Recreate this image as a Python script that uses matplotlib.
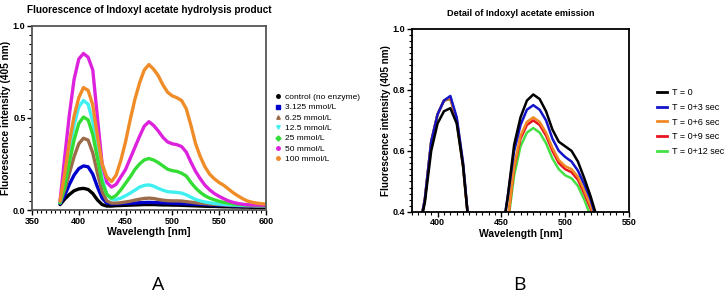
import numpy as np
import matplotlib
matplotlib.use("Agg")
import matplotlib.pyplot as plt
from matplotlib.lines import Line2D
from matplotlib.ticker import MultipleLocator, AutoMinorLocator

plt.rcParams['font.family'] = ['Liberation Sans', 'DejaVu Sans']

# ---- panel A: full spectra, one curve per indoxyl acetate concentration ----
wl_a = [380, 385, 390, 395, 400, 405, 410, 415, 420, 425, 430, 435, 440, 445, 450,
        455, 460, 465, 470, 475, 480, 485, 490, 495, 500, 505, 510, 515, 520, 525,
        530, 535, 540, 545, 550, 555, 560, 565, 570, 575, 580, 585, 590, 595, 600]

control = [0.03, 0.06, 0.085, 0.105, 0.115, 0.118, 0.112, 0.09, 0.055, 0.03, 0.022, 0.022, 0.024, 0.025, 0.026,
           0.027, 0.028, 0.029, 0.03, 0.03, 0.03, 0.029, 0.028, 0.028, 0.027, 0.027, 0.026, 0.025, 0.024, 0.023,
           0.022, 0.021, 0.02, 0.02, 0.019, 0.018, 0.018, 0.017, 0.017, 0.016, 0.016, 0.015, 0.015, 0.015, 0.015]
c3125 = [0.035, 0.08, 0.14, 0.19, 0.225, 0.24, 0.235, 0.195, 0.125, 0.065, 0.038, 0.033, 0.034, 0.035, 0.036,
         0.037, 0.038, 0.04, 0.041, 0.042, 0.041, 0.04, 0.039, 0.038, 0.037, 0.036, 0.035, 0.034, 0.033, 0.032,
         0.031, 0.03, 0.029, 0.028, 0.027, 0.026, 0.025, 0.024, 0.023, 0.022, 0.022, 0.021, 0.021, 0.02, 0.02]
c625 = [0.04, 0.11, 0.2, 0.29, 0.36, 0.39, 0.38, 0.31, 0.2, 0.1, 0.05, 0.038, 0.038, 0.04, 0.044,
        0.048, 0.054, 0.059, 0.063, 0.065, 0.063, 0.058, 0.054, 0.051, 0.05, 0.05, 0.049, 0.046, 0.043, 0.04,
        0.037, 0.035, 0.033, 0.031, 0.03, 0.028, 0.027, 0.026, 0.025, 0.024, 0.023, 0.023, 0.022, 0.022, 0.022]
c125 = [0.04, 0.16, 0.32, 0.46, 0.56, 0.595, 0.575, 0.48, 0.32, 0.17, 0.085, 0.06, 0.058, 0.065, 0.078,
        0.092, 0.108, 0.125, 0.134, 0.137, 0.13, 0.118, 0.108, 0.1, 0.098, 0.096, 0.092, 0.083, 0.07, 0.058,
        0.05, 0.044, 0.04, 0.036, 0.033, 0.031, 0.029, 0.028, 0.027, 0.026, 0.025, 0.025, 0.024, 0.024, 0.024]
c25 = [0.04, 0.13, 0.26, 0.38, 0.47, 0.505, 0.49, 0.41, 0.28, 0.15, 0.085, 0.065, 0.08, 0.11, 0.145,
       0.18, 0.22, 0.25, 0.272, 0.28, 0.272, 0.258, 0.24, 0.222, 0.214, 0.21, 0.2, 0.185, 0.15, 0.12,
       0.096, 0.078, 0.065, 0.056, 0.048, 0.042, 0.038, 0.034, 0.031, 0.029, 0.027, 0.026, 0.025, 0.025, 0.024]
c50 = [0.05, 0.29, 0.52, 0.71, 0.82, 0.85, 0.83, 0.76, 0.5, 0.25, 0.15, 0.125, 0.14, 0.18, 0.22,
       0.28, 0.34, 0.4, 0.455, 0.48, 0.46, 0.43, 0.395, 0.37, 0.36, 0.355, 0.345, 0.315, 0.26, 0.21,
       0.17, 0.135, 0.11, 0.09, 0.075, 0.062, 0.05, 0.042, 0.036, 0.032, 0.029, 0.028, 0.027, 0.027, 0.026]
c100 = [0.05, 0.2, 0.37, 0.51, 0.61, 0.665, 0.65, 0.57, 0.4, 0.25, 0.18, 0.155, 0.19, 0.27, 0.37,
        0.49, 0.6, 0.69, 0.76, 0.79, 0.765, 0.73, 0.68, 0.64, 0.62, 0.61, 0.595, 0.55, 0.46, 0.36,
        0.29, 0.235, 0.195, 0.17, 0.15, 0.135, 0.115, 0.095, 0.078, 0.063, 0.05, 0.043, 0.038, 0.035, 0.033]

labels_a = ['control (no enzyme)', '3.125 mmol/L', '6.25 mmol/L', '12.5 mmol/L',
            '25 mmol/L', '50 mmol/L', '100 mmol/L']
series_a = [control, c3125, c625, c125, c25, c50, c100]
colors_a = ['black', '#0000cc', '#9c6b4a', '#40f0f0', '#33dd33', '#dd22dd', '#f08c28']
markers_a = ['o', 's', '^', 'v', 'D', 'o', 'o']

# ---- panel B: detail of emission over time ----
wl_b = [380, 385, 390, 395, 400, 405, 410, 415, 420, 425, 430, 435, 440, 445, 450, 455, 460, 465,
        470, 475, 480, 485, 490, 495, 500, 505, 510, 515, 520, 525, 530, 535, 540, 545, 550]
t0 = [0.2, 0.33, 0.43, 0.6, 0.69, 0.73, 0.74, 0.69, 0.55, 0.33, 0.2, 0.15, 0.14, 0.2, 0.31, 0.45, 0.62, 0.71,
      0.765, 0.785, 0.77, 0.73, 0.67, 0.63, 0.615, 0.6, 0.565, 0.51, 0.45, 0.38, 0.3, 0.24, 0.2, 0.17, 0.15]
t3 = [0.2, 0.33, 0.44, 0.63, 0.72, 0.765, 0.78, 0.71, 0.56, 0.33, 0.2, 0.15, 0.14, 0.2, 0.31, 0.45, 0.6, 0.685,
      0.735, 0.75, 0.735, 0.7, 0.64, 0.6, 0.58, 0.565, 0.535, 0.49, 0.44, 0.37, 0.3, 0.24, 0.2, 0.17, 0.15]
t6 = [0.2, 0.33, 0.44, 0.63, 0.72, 0.765, 0.775, 0.705, 0.555, 0.33, 0.2, 0.15, 0.13, 0.17, 0.27, 0.37, 0.55, 0.65,
      0.695, 0.71, 0.695, 0.66, 0.61, 0.57, 0.55, 0.54, 0.515, 0.47, 0.42, 0.35, 0.28, 0.22, 0.19, 0.16, 0.14]
t9 = [0.2, 0.33, 0.44, 0.63, 0.72, 0.765, 0.772, 0.7, 0.55, 0.33, 0.2, 0.15, 0.13, 0.17, 0.26, 0.37, 0.545, 0.64,
      0.685, 0.7, 0.685, 0.65, 0.6, 0.56, 0.54, 0.53, 0.505, 0.46, 0.41, 0.34, 0.28, 0.22, 0.19, 0.16, 0.14]
t12 = [0.2, 0.33, 0.44, 0.63, 0.72, 0.765, 0.77, 0.7, 0.55, 0.33, 0.2, 0.15, 0.13, 0.17, 0.25, 0.36, 0.52, 0.615,
       0.66, 0.675, 0.66, 0.625, 0.575, 0.54, 0.52, 0.51, 0.485, 0.44, 0.385, 0.32, 0.27, 0.21, 0.18, 0.15, 0.13]

labels_b = ['T = 0', 'T = 0+3 sec', 'T = 0+6 sec', 'T = 0+9 sec', 'T = 0+12 sec']
series_b = [t0, t3, t6, t9, t12]
colors_b = ['black', '#1414c8', '#f08a24', '#e81420', '#44e044']

fig = plt.figure(figsize=(7.28, 3.01), dpi=100)

def style_axes(ax, lw, spine_color):
    for s in ax.spines.values():
        s.set_linewidth(lw)
        s.set_color(spine_color)
    ax.tick_params(which='major', direction='out', length=3.5, width=1.0, labelsize=6.5, pad=1.2)
    ax.tick_params(which='minor', direction='out', length=2, width=0.8)
    for lab in ax.get_xticklabels() + ax.get_yticklabels():
        lab.set_fontweight('bold')

# panel A
axA = fig.add_axes([0.044, 0.302, 0.321, 0.612])
for y, c in zip(series_a, colors_a):
    axA.plot(wl_a, y, color=c, lw=2.4, solid_capstyle='round', solid_joinstyle='round')
axA.set_xlim(350, 600)
axA.set_ylim(0, 1.0)
axA.xaxis.set_major_locator(MultipleLocator(50))
axA.xaxis.set_minor_locator(AutoMinorLocator(10))
axA.yaxis.set_major_locator(MultipleLocator(0.5))
axA.yaxis.set_minor_locator(AutoMinorLocator(10))
style_axes(axA, 1.3, '#555555')
axA.set_title('Fluorescence of Indoxyl acetate hydrolysis product', fontsize=7.2, fontweight='bold', pad=9)
axA.set_xlabel('Wavelength [nm]', fontsize=7.5, fontweight='bold', labelpad=1)
axA.set_ylabel('Fluorescence intensity (405 nm)', fontsize=7.3, fontweight='bold')
axA.yaxis.set_label_coords(-0.092, 0.5)

handles_a = [Line2D([], [], ls='none', marker=m, color=c, markersize=2.5) for m, c in zip(markers_a, colors_a)]
fig.legend(handles_a, labels_a, loc='upper left', bbox_to_anchor=(0.378, 0.69), frameon=False,
           fontsize=6, handlelength=0.6, handletextpad=0.6, labelspacing=0.3, borderpad=0, borderaxespad=0)

# panel B
axB = fig.add_axes([0.566, 0.296, 0.298, 0.608])
for y, c in list(zip(series_b, colors_b))[::-1]:
    axB.plot(wl_b, y, color=c, lw=1.8)
axB.set_xlim(380, 550)
axB.set_ylim(0.4, 1.0)
axB.set_xticks([400, 450, 500, 550])
axB.xaxis.set_minor_locator(MultipleLocator(5))
axB.yaxis.set_major_locator(MultipleLocator(0.2))
axB.yaxis.set_minor_locator(AutoMinorLocator(10))
style_axes(axB, 1.3, 'black')
axB.set_title('Detail of Indoxyl acetate emission', fontsize=6.6, fontweight='bold', pad=9)
axB.set_xlabel('Wavelength [nm]', fontsize=7.5, fontweight='bold', labelpad=1)
axB.set_ylabel('Fluorescence intensity (405 nm)', fontsize=7.1, fontweight='bold')
axB.yaxis.set_label_coords(-0.095, 0.5)

handles_b = [Line2D([], [], color=c, lw=2) for c in colors_b]
fig.legend(handles_b, labels_b, loc='upper left', bbox_to_anchor=(0.902, 0.708), frameon=False,
           fontsize=6.5, handlelength=1.1, handletextpad=0.6, labelspacing=0.65, borderpad=0, borderaxespad=0)

fig.text(0.217, 0.053, 'A', fontsize=14, ha='center', va='center', family=['Open Sans', 'DejaVu Sans'])
fig.text(0.714, 0.053, 'B', fontsize=14, ha='center', va='center', family=['Open Sans', 'DejaVu Sans'])

fig.savefig('out.png', dpi=100)
